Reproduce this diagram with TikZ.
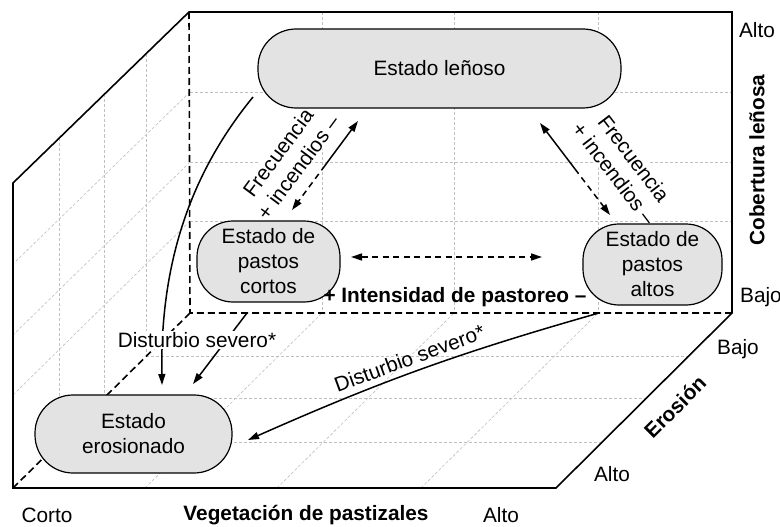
\documentclass[tikz,border=0pt]{standalone}
\usepackage{fontspec}
\setmainfont{Liberation Sans}
\usetikzlibrary{arrows.meta}
\newcommand\txtfont{\fontsize{20.8}{25}\selectfont}
\begin{document}
\begin{tikzpicture}[x=1pt,y=-1pt,
  grid/.style={gray!50, line width=0.6pt, dash pattern=on 3pt off 2pt},
  boxedge/.style={line width=1.6pt, line join=miter},
  hidden/.style={line width=1.6pt, dash pattern=on 7pt off 4pt},
  state/.style={draw, line width=1.2pt, fill=gray!22, align=center, font=\txtfont, inner sep=0pt},
  arr/.style={line width=1.5pt, -{Triangle[length=11pt,width=7pt]}},
  darr/.style={arr, dash pattern=on 6pt off 4.5pt},
  dboth/.style={line width=1.5pt, dash pattern=on 6pt off 4.5pt, {Triangle[length=11pt,width=7pt]}-{Triangle[length=11pt,width=7pt]}},
  lab/.style={font=\txtfont, align=center, inner sep=1pt},
  wlab/.style={lab, fill=white},
  axlab/.style={font=\txtfont\bfseries, inner sep=0pt},
  axval/.style={font=\txtfont, inner sep=0pt},
]
\useasboundingbox (0,0) rectangle (780,527);
% ---- grid: back face
\foreach \x in {322,454,598} \draw[grid] (\x,12) -- (\x,313);
\foreach \y in {92,162,221} \draw[grid] (190,\y) -- (732,\y);
% ---- grid: left face
\draw[grid] (59,138) -- (59,442.5);
\draw[grid] (104,94.5) -- (104,398);
\draw[grid] (146,53.8) -- (146,356.5);
\draw[grid] (190,92) -- (13,264);
\draw[grid] (190,162) -- (13,335);
\draw[grid] (190,221) -- (13,395);
% ---- grid: floor
\draw[grid] (59,442.5) -- (601.8,442.5);
\draw[grid] (104,398) -- (646.5,398);
\draw[grid] (146,356.5) -- (688.3,356.5);
\draw[grid] (145,488) -- (322,313);
\draw[grid] (277,488) -- (454,313);
\draw[grid] (421,488) -- (598,313);
% ---- box
\draw[boxedge] (13,183) -- (189,12) -- (732,12) -- (732,313) -- (556,488) -- (13,488) -- cycle;
\draw[hidden] (189,12) -- (190,313) -- (732,313);
\draw[hidden] (190,313) -- (13,488);
% ---- labels on the fire connectors
\node[wlab, rotate=53.4] (frecL) at (288,160) {Frecuencia\\+ incendios –};
\node[wlab, rotate=-52.7] (frecR) at (624,166) {Frecuencia\\+ incendios –};
% ---- states
\node[state, minimum width=363pt, minimum height=79pt, rounded corners=38pt] (lenoso) at (439.5,68.5) {Estado leñoso};
\node[state, minimum width=143pt, minimum height=81pt, rounded corners=36pt] (cortos) at (268.5,261.5) {Estado de\\pastos\\cortos};
\node[state, minimum width=139pt, minimum height=81pt, rounded corners=36pt] (altos) at (652.5,264.5) {Estado de\\pastos\\altos};
\node[state, minimum width=197pt, minimum height=78pt, rounded corners=38pt] (eros) at (133.5,434) {Estado\\erosionado};
\node[lab, font=\txtfont\bfseries] (past) at (455,297) {+ Intensidad de pastoreo –};
% ---- connectors
\coordinate (lb) at (292,210); \coordinate (lt) at (358,121); \coordinate (lm) at (325,165.5);
\draw[arr] (lm) -- (lt);
\draw[darr] (lm) -- (lb);
\coordinate (rt) at (540,123); \coordinate (rb) at (610,215); \coordinate (rm) at (575,169);
\draw[arr] (rm) -- (rt);
\draw[darr] (rm) -- (rb);
\coordinate (h1) at (351,257); \coordinate (h2) at (542,257);
\draw[dboth] (h1) -- (h2);
\coordinate (c1) at (253,97); \coordinate (c2) at (162,385);
\draw[arr] (c1) .. controls (195,168) and (160,255) .. (c2);
\coordinate (s1) at (247,313); \coordinate (s2) at (193,384);
\draw[arr] (s1) -- (s2);
\node[wlab] (dist1) at (197,340) {Disturbio severo*};
\coordinate (t1) at (599,313); \coordinate (t2) at (248,440);
\draw[arr] (t1) to[bend right=4] node[lab, pos=0.52, above=5pt, sloped] (dist2) {Disturbio severo*} (t2);
% ---- axis labels
\node[axval] (a1) at (757,30) {Alto};
\node[axlab, rotate=90] (cob) at (757,160) {Cobertura leñosa};
\node[axval] (b1) at (761,297) {Bajo};
\node[axval] (b2) at (738,349) {Bajo};
\node[axlab, rotate=45] (ero) at (675,407) {Erosión};
\node[axval] (a2) at (612,474) {Alto};
\node[axval] (corto) at (47,515) {Corto};
\node[axlab] (veg) at (306,515) {Vegetación de pastizales};
\node[axval] (a3) at (501,515) {Alto};
\end{tikzpicture}
\end{document}
